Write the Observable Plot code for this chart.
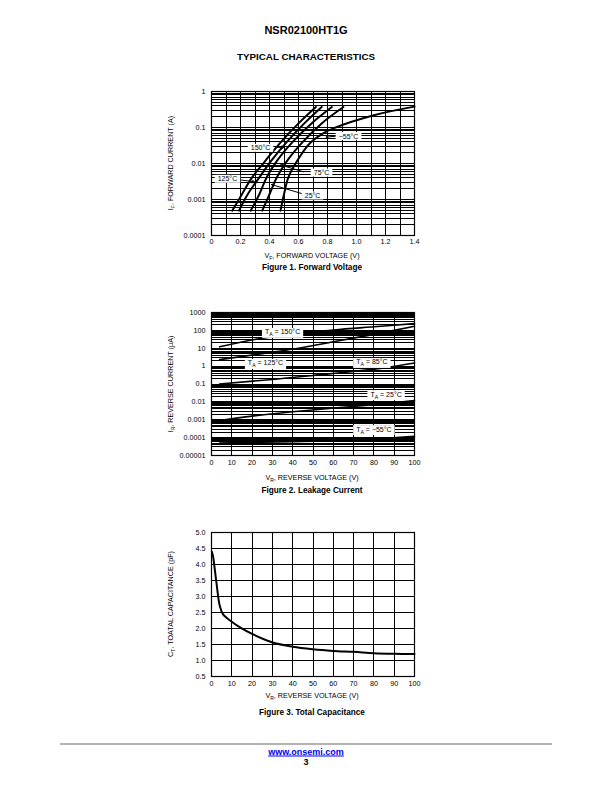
<!DOCTYPE html>
<html><head><meta charset="utf-8">
<script src="https://cdn.jsdelivr.net/npm/d3@7"></script>
<script src="https://cdn.jsdelivr.net/npm/@observablehq/plot@0.6"></script>
<style>
body{margin:0;background:#fff;}
#page{position:relative;width:612px;height:792px;font-family:"Liberation Sans",Arial,sans-serif;color:#000;overflow:hidden;background:#fff}
.c{position:absolute;white-space:nowrap;transform:translate(-50%,-50%);line-height:1}
.yt{position:absolute;white-space:nowrap;transform:translate(-50%,-50%) rotate(-90deg);font-size:7.2px;line-height:1}
.xt{font-size:7.2px}
.cap{font-weight:bold;font-size:8.2px}
sub{font-size:70%;vertical-align:-0.3em;line-height:0}
#page svg{position:absolute;left:0;overflow:visible}
</style></head><body><div id="page">
<div class="c" style="left:306px;top:30px;font-weight:bold;font-size:11px">NSR02100HT1G</div>
<div class="c" style="left:306px;top:57px;font-weight:bold;font-size:9.8px">TYPICAL CHARACTERISTICS</div>

<div class="yt" style="left:171px;top:163px">I<sub>F</sub>, FORWARD CURRENT (A)</div>
<div class="c xt" style="left:312px;top:256px">V<sub>F</sub>, FORWARD VOLTAGE (V)</div>
<div class="c cap" style="left:312px;top:268px">Figure 1. Forward Voltage</div>

<div class="yt" style="left:171px;top:384px">I<sub>R</sub>, REVERSE CURRENT (μA)</div>
<div class="c xt" style="left:312px;top:478px">V<sub>R</sub>, REVERSE VOLTAGE (V)</div>
<div class="c cap" style="left:312px;top:491px">Figure 2. Leakage Current</div>

<div class="yt" style="left:171px;top:604px">C<sub>T</sub>, TOATAL CAPACITANCE (pF)</div>
<div class="c xt" style="left:312px;top:696px">V<sub>R</sub>, REVERSE VOLTAGE (V)</div>
<div class="c cap" style="left:312px;top:713px">Figure 3. Total Capacitance</div>

<div style="position:absolute;left:60px;top:743px;width:492px;height:2px;background:#b3b3b3"></div>
<div class="c" style="left:306px;top:752px;font-weight:bold;font-size:9px;color:#0000ee;text-decoration:underline">www.onsemi.com</div>
<div class="c" style="left:306px;top:762px;font-weight:bold;font-size:9px">3</div>
</div>
<script>
// ---------- Figure 1: forward voltage ----------
const fig1XTicks = [0, 0.2, 0.4, 0.6, 0.8, 1.0, 1.2, 1.4];
const fig1YTicks = [1, 0.1, 0.01, 0.001, 0.0001];
const fwdTemps = ["150°C", "125°C", "75°C", "25°C", "−55°C"];
const fwdV150 = [0.143, 0.21, 0.28, 0.37, 0.48, 0.60, 0.72];
const fwdI150 = [0.00049, 0.0014, 0.0041, 0.0117, 0.040, 0.13, 0.37];
const fwdV125 = [0.19, 0.25, 0.33, 0.41, 0.52, 0.64, 0.76];
const fwdI125 = [0.00049, 0.0014, 0.0041, 0.0117, 0.040, 0.13, 0.37];
const fwdV75 = [0.27, 0.33, 0.38, 0.45, 0.56, 0.69, 0.83];
const fwdI75 = [0.00049, 0.0014, 0.0041, 0.0117, 0.040, 0.13, 0.37];
const fwdV25 = [0.35, 0.40, 0.45, 0.52, 0.63, 0.76, 0.91];
const fwdI25 = [0.00049, 0.0014, 0.0041, 0.0117, 0.040, 0.13, 0.37];
const fwdVm55 = [0.476, 0.50, 0.53, 0.59, 0.68, 0.77, 0.84, 1.12, 1.4];
const fwdIm55 = [0.00049, 0.0014, 0.0041, 0.0117, 0.037, 0.069, 0.095, 0.22, 0.38];
const fig1LabelText = ["150°C", "125°C", "75°C", "25°C", "−55°C"];
const fig1LabelV = [0.338, 0.11, 0.759, 0.697, 0.945];
const fig1LabelI = [0.0268, 0.0037, 0.0055, 0.00127, 0.057];
const fig1LeadV1 = [0.44, 0.20, 0.634, 0.628, 0.855];
const fig1LeadI1 = [0.028, 0.0035, 0.0059, 0.00144, 0.057];
const fig1LeadV2 = [0.50, 0.297, 0.476, 0.414, 0.79];
const fig1LeadI2 = [0.028, 0.0031, 0.0091, 0.0026, 0.054];

// ---------- Figure 2: leakage current ----------
const fig2XTicks = [0, 10, 20, 30, 40, 50, 60, 70, 80, 90, 100];
const fig2YTicks = [1000, 100, 10, 1, 0.1, 0.01, 0.001, 0.0001, 0.00001];
const leakV150 = [4, 24, 39, 60, 80, 100];
const leakI150 = [12, 35, 60, 105, 160, 240];
const leakV125 = [4, 25, 45, 60, 80, 100];
const leakI125 = [2.3, 5, 11, 23, 60, 170];
const leakV85 = [4, 30, 50, 70, 85, 100];
const leakI85 = [0.1, 0.18, 0.3, 0.5, 0.8, 1.5];
const leakV25 = [4, 20, 40, 60, 80, 100];
const leakI25 = [0.0009, 0.0016, 0.0028, 0.0045, 0.007, 0.012];
const leakVm55 = [4, 40, 70, 85, 100];
const leakIm55 = [0.00005, 0.00006, 0.00007, 0.00009, 0.00012];
const fig2LabelText = ["T{A} = 150°C", "T{A} = 125°C", "T{A} = 85°C", "T{A} = 25°C", "T{A} = −55°C"];
const fig2LabelV = [35, 26.6, 79, 86, 80];
const fig2LabelI = [80, 1.45, 1.66, 0.026, 0.00029];

// ---------- Figure 3: total capacitance ----------
const fig3XTicks = [0, 10, 20, 30, 40, 50, 60, 70, 80, 90, 100];
const fig3YTicks = [0.5, 1.0, 1.5, 2.0, 2.5, 3.0, 3.5, 4.0, 4.5, 5.0];
const capV = [0.2, 0.8, 2.4, 4.1, 5.7, 9.8, 14.7, 20, 29.4, 40, 50, 60, 70, 80, 90, 100];
const capC = [4.40, 4.24, 3.45, 2.70, 2.44, 2.22, 2.01, 1.83, 1.58, 1.43, 1.35, 1.30, 1.27, 1.23, 1.21, 1.20];

// ---------- helpers ----------
const FONT = '"Liberation Sans", Arial, sans-serif';
function logGrid(ticks) {
  const lo = Math.min(...ticks), hi = Math.max(...ticks);
  const out = [];
  for (const d of ticks) if (d < hi) for (let k = 1; k < 10; k++) out.push(+(k * d).toPrecision(3));
  out.push(hi);
  return out.filter(v => v >= lo && v <= hi);
}
function rows(names, xs, ys) {
  const out = [];
  names.forEach((n, j) => xs[j].forEach((x, i) => out.push({t: n, x, y: ys[j][i]})));
  return out;
}
function gridMarks(xg, yg) {
  return [
    Plot.ruleX(xg, {stroke: "#000", strokeWidth: 1, shapeRendering: "crispEdges"}),
    Plot.ruleY(yg, {stroke: "#000", strokeWidth: 1, shapeRendering: "crispEdges"}),
    Plot.frame({stroke: "#000", strokeWidth: 1.2})
  ];
}
function place(svg, top) {
  svg.style.top = top + "px";
  document.getElementById("page").appendChild(svg);
  // subscripts in label texts
  svg.querySelectorAll("text").forEach(t => {
    const s = t.textContent;
    const m = s.match(/^(.*)\{(.+)\}(.*)$/);
    if (!m) return;
    t.textContent = "";
    const ns = "http://www.w3.org/2000/svg";
    const a = document.createElementNS(ns, "tspan"); a.textContent = m[1];
    const b = document.createElementNS(ns, "tspan"); b.textContent = m[2];
    b.setAttribute("dy", "2"); b.setAttribute("font-size", "5.2");
    const c = document.createElementNS(ns, "tspan"); c.textContent = m[3]; c.setAttribute("dy", "-2");
    t.append(a, b, c);
  });
  // white boxes behind labels
  svg.querySelectorAll('g[aria-label="text"] text').forEach(t => {
    const bb = t.getBBox();
    const r = document.createElementNS("http://www.w3.org/2000/svg", "rect");
    r.setAttribute("x", bb.x - 3); r.setAttribute("y", bb.y - 0.5);
    r.setAttribute("width", bb.width + 6); r.setAttribute("height", bb.height + 1);
    r.setAttribute("fill", "#fff");
    if (t.getAttribute("transform")) r.setAttribute("transform", t.getAttribute("transform"));
    t.parentNode.insertBefore(r, t);
  });
}
const common = {width: 612, marginLeft: 211, marginRight: 198, marginTop: 10,
  style: {fontFamily: FONT, fontSize: "7.2px", background: "transparent", color: "#000"}};

// ---------- Figure 1 ----------
const fwd = rows(fwdTemps, [fwdV150, fwdV125, fwdV75, fwdV25, fwdVm55], [fwdI150, fwdI125, fwdI75, fwdI25, fwdIm55]);
const fig1Labels = fig1LabelText.map((t, i) => ({t, x: fig1LabelV[i], y: fig1LabelI[i]}));
const fig1Leads = fig1LeadV1.map((v, i) => ({x1: v, y1: fig1LeadI1[i], x2: fig1LeadV2[i], y2: fig1LeadI2[i]}));
const fig1Grid = d3.range(0, 15).map(i => +(i / 10).toFixed(1));
const svg1 = Plot.plot({...common, height: 169, marginBottom: 15,
  x: {domain: [0, 1.4], ticks: fig1XTicks, tickFormat: d => d === 0 ? "0" : d.toFixed(1), tickSize: 0, tickPadding: 3, label: null},
  y: {type: "log", domain: [0.0001, 1], ticks: fig1YTicks, tickFormat: d => String(d), tickSize: 0, tickPadding: 6, label: null},
  marks: [
    ...gridMarks(fig1Grid, logGrid(fig1YTicks)),
    Plot.line(fwd, {x: "x", y: "y", z: "t", curve: "catmull-rom", stroke: "#000", strokeWidth: 2}),
    Plot.arrow(fig1Leads, {x1: "x1", y1: "y1", x2: "x2", y2: "y2", stroke: "#000", strokeWidth: 1, headLength: 4}),
    Plot.text(fig1Labels, {x: "x", y: "y", text: "t", fill: "#000", fontSize: 7, fontFamily: FONT})
  ]});
place(svg1, 81);

// ---------- Figure 2 ----------
const leak = rows(["150", "125", "85", "25", "-55"], [leakV150, leakV125, leakV85, leakV25, leakVm55], [leakI150, leakI125, leakI85, leakI25, leakIm55]);
const fig2Labels = fig2LabelText.map((t, i) => ({t, x: fig2LabelV[i], y: fig2LabelI[i]}));
const svg2 = Plot.plot({...common, height: 169, marginBottom: 16,
  x: {domain: [0, 100], ticks: fig2XTicks, tickFormat: d => String(d), tickSize: 0, tickPadding: 4, label: null},
  y: {type: "log", domain: [0.00001, 1000], ticks: fig2YTicks, tickFormat: d => String(d), tickSize: 0, tickPadding: 6, label: null},
  marks: [
    ...gridMarks(fig2XTicks, logGrid(fig2YTicks)),
    Plot.line(leak, {x: "x", y: "y", z: "t", curve: "catmull-rom", stroke: "#000", strokeWidth: 1.6}),
    Plot.text(fig2Labels, {x: "x", y: "y", text: "t", fill: "#000", fontSize: 7, fontFamily: FONT})
  ]});
place(svg2, 302);

// ---------- Figure 3 ----------
const cap = capV.map((v, i) => ({x: v, y: capC[i]}));
const svg3 = Plot.plot({...common, height: 169, marginBottom: 15,
  x: {domain: [0, 100], ticks: fig3XTicks, tickFormat: d => String(d), tickSize: 0, tickPadding: 4, label: null},
  y: {domain: [0.5, 5.0], ticks: fig3YTicks, tickFormat: d => d.toFixed(1), tickSize: 0, tickPadding: 6, label: null},
  marks: [
    ...gridMarks(fig3XTicks, fig3YTicks),
    Plot.line(cap, {x: "x", y: "y", curve: "catmull-rom", stroke: "#000", strokeWidth: 2})
  ]});
place(svg3, 522);
</script>
</body></html>
